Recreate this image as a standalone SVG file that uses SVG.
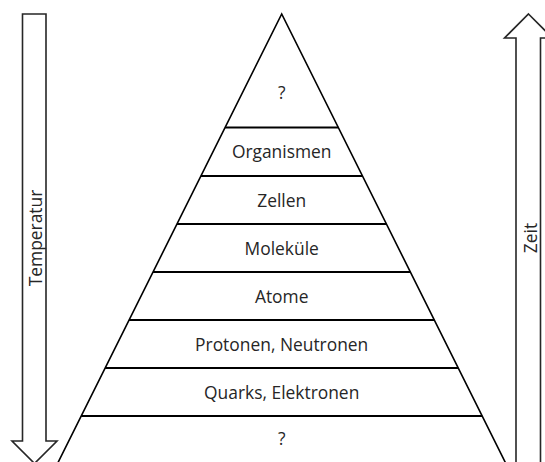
<svg xmlns="http://www.w3.org/2000/svg" width="545" height="462" viewBox="0 0 545 462">
<style>
.arrow{fill:#fff;stroke:#262626;stroke-width:1.6;stroke-linejoin:miter}
.edge{fill:none;stroke:#000;stroke-width:1.6}
.div{stroke:#000;stroke-width:2.2}
text{font-family:"Open Sans","Liberation Sans",sans-serif;font-size:17.4px;fill:#262626;text-anchor:middle}
</style>
<rect width="545" height="462" fill="#fff"/>
<g id="temperatur-arrow">
<polygon class="arrow" points="22.5,14 46,14 46,441 57,441 34.5,463.5 12,441 22.5,441"/>
<text x="0" y="0" transform="translate(41.5,238) rotate(-90)">Temperatur</text>
</g>
<g id="zeit-arrow">
<polygon class="arrow" points="528.5,14 552.5,38 540.5,38 540.5,475 516,475 516,38 504.5,38"/>
<text x="0" y="0" transform="translate(536.5,238) rotate(-90)">Zeit</text>
</g>
<g id="connectors">
<polyline class="edge" points="54.3,470 281.7,14 509.1,470"/>
<line class="div" x1="225.1" y1="127.5" x2="338.3" y2="127.5"/>
<line class="div" x1="200.9" y1="176" x2="362.5" y2="176"/>
<line class="div" x1="177" y1="224" x2="386.4" y2="224"/>
<line class="div" x1="153" y1="272" x2="410.4" y2="272"/>
<line class="div" x1="129.1" y1="320" x2="434.3" y2="320"/>
<line class="div" x1="105.1" y1="368" x2="458.3" y2="368"/>
<line class="div" x1="81.2" y1="416" x2="482.2" y2="416"/>
</g>
<g id="top"><text x="281.7" y="99">?</text></g>
<g id="organismen"><text x="281.7" y="158">Organismen</text></g>
<g id="zellen"><text x="281.7" y="206.5">Zellen</text></g>
<g id="molekuele"><text x="281.7" y="254.5">Moleküle</text></g>
<g id="atome"><text x="281.7" y="302.5">Atome</text></g>
<g id="protonen-neutronen"><text x="281.7" y="350.5">Protonen, Neutronen</text></g>
<g id="quarks-elektronen"><text x="281.7" y="398.5">Quarks, Elektronen</text></g>
<g id="bottom"><text x="281.7" y="445">?</text></g>
</svg>
